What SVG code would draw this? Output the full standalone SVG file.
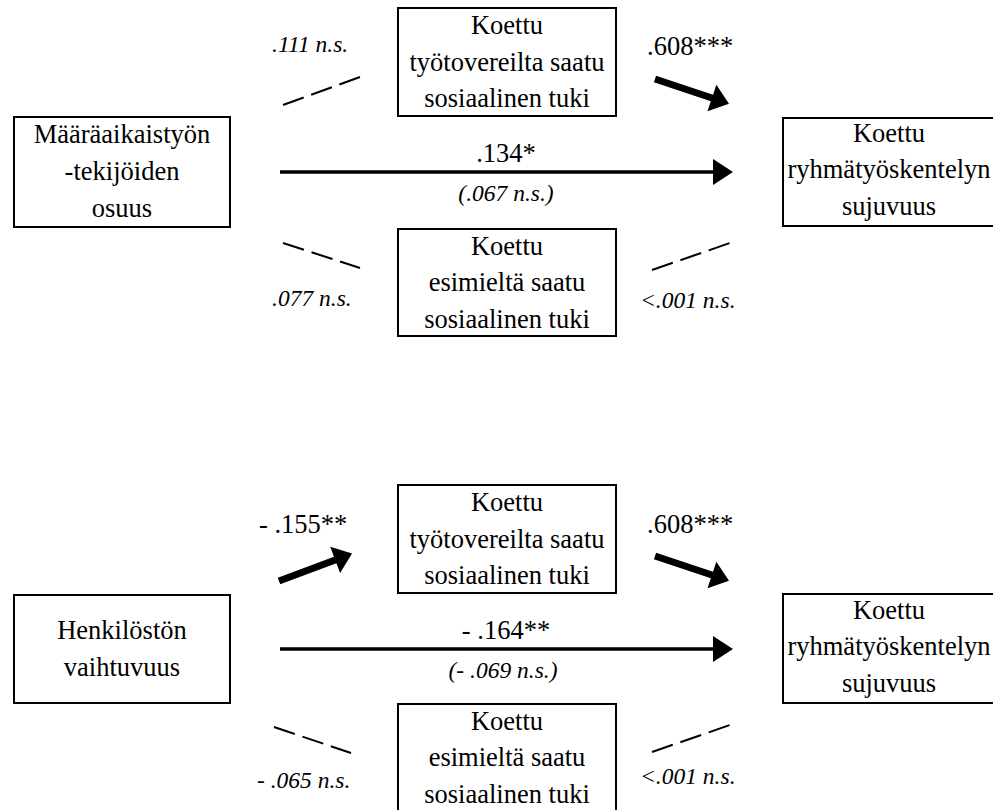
<svg xmlns="http://www.w3.org/2000/svg" width="993" height="810" viewBox="0 0 993 810">
<style>
.box{fill:#fff;stroke:#000;stroke-width:2}
text{fill:#000}
.t{font-size:26.5px}
.c{text-anchor:middle}
.i{font-size:23.5px;font-style:italic}
.dash{stroke:#000;stroke-width:2;stroke-dasharray:22 8;fill:none}
.shaft{stroke:#000;stroke-width:3.5;fill:none}
</style>
<defs>
<path id="thick" d="M0,-3.5 L60,-3.5 L60,-14 L78,0 L60,14 L60,3.5 L0,3.5 Z" fill="#000"/>
</defs>
<rect width="993" height="810" fill="#fff"/>
<g font-family="Liberation Serif, Times New Roman, Tinos, Noto Serif, DejaVu Serif, serif">

<!-- Top panel nodes -->
<g id="n-maaraaika">
<rect class="box" x="14" y="117" width="216" height="110"/>
<text class="t c" x="122" y="143">Määräaikaistyön</text>
<text class="t c" x="122" y="180">-tekijöiden</text>
<text class="t c" x="122" y="217">osuus</text>
</g>
<g id="n-tyotoverit1">
<rect class="box" x="398" y="8" width="218" height="108"/>
<text class="t c" x="507" y="34">Koettu</text>
<text class="t c" x="507" y="71">työtovereilta saatu</text>
<text class="t c" x="507" y="107">sosiaalinen tuki</text>
</g>
<g id="n-esimies1">
<rect class="box" x="398" y="229" width="218" height="107"/>
<text class="t c" x="507" y="255">Koettu</text>
<text class="t c" x="507" y="291">esimieltä saatu</text>
<text class="t c" x="507" y="328">sosiaalinen tuki</text>
</g>
<g id="n-ryhma1">
<rect class="box" x="783" y="118" width="212" height="108"/>
<text class="t c" x="889" y="142">Koettu</text>
<text class="t c" x="889" y="178">ryhmätyöskentelyn</text>
<text class="t c" x="889" y="215">sujuvuus</text>
</g>

<!-- Bottom panel nodes -->
<g id="n-henkilosto">
<rect class="box" x="14" y="595" width="216" height="108"/>
<text class="t c" x="122" y="639">Henkilöstön</text>
<text class="t c" x="122" y="676">vaihtuvuus</text>
</g>
<g id="n-tyotoverit2">
<rect class="box" x="398" y="485" width="218" height="108"/>
<text class="t c" x="507" y="511">Koettu</text>
<text class="t c" x="507" y="548">työtovereilta saatu</text>
<text class="t c" x="507" y="584">sosiaalinen tuki</text>
</g>
<g id="n-esimies2">
<rect class="box" x="398" y="704" width="218" height="110"/>
<text class="t c" x="507" y="730">Koettu</text>
<text class="t c" x="507" y="766">esimieltä saatu</text>
<text class="t c" x="507" y="803">sosiaalinen tuki</text>
</g>
<g id="n-ryhma2">
<rect class="box" x="783" y="594" width="212" height="109"/>
<text class="t c" x="889" y="619">Koettu</text>
<text class="t c" x="889" y="655">ryhmätyöskentelyn</text>
<text class="t c" x="889" y="692">sujuvuus</text>
</g>

<!-- Connectors -->
<g id="connectors">
<line class="dash" x1="283" y1="105" x2="360" y2="77"/>
<line class="dash" x1="283" y1="243" x2="360" y2="268"/>
<line class="dash" x1="652" y1="270" x2="730" y2="243"/>
<use href="#thick" transform="translate(655,79) rotate(18.43)"/>
<line class="shaft" x1="280" y1="172" x2="714" y2="172"/>
<polygon points="713,159 733,172 713,185" fill="#000"/>

<use href="#thick" transform="translate(279,581) rotate(-20.56)"/>
<line class="dash" x1="274" y1="727" x2="351" y2="753"/>
<line class="dash" x1="652" y1="752" x2="730" y2="725"/>
<use href="#thick" transform="translate(655,556) rotate(18.43)"/>
<line class="shaft" x1="280" y1="649" x2="714" y2="649"/>
<polygon points="713,636 733,649 713,662" fill="#000"/>
</g>

<!-- Labels -->
<g id="labels">
<text class="i" x="272" y="52">.111 n.s.</text>
<text class="i" x="272" y="306">.077 n.s.</text>
<text class="t" x="647" y="55">.608***</text>
<text class="t c" x="506" y="162">.134*</text>
<text class="i c" x="506" y="201">(.067 n.s.)</text>
<text class="i" x="640" y="308">&lt;.001 n.s.</text>

<text class="t" x="259" y="533">- .155**</text>
<text class="t" x="647" y="533">.608***</text>
<text class="t c" x="506" y="639">- .164**</text>
<text class="i c" x="503" y="678">(- .069 n.s.)</text>
<text class="i" x="257" y="788">- .065 n.s.</text>
<text class="i" x="640" y="784">&lt;.001 n.s.</text>
</g>
</g>
</svg>
